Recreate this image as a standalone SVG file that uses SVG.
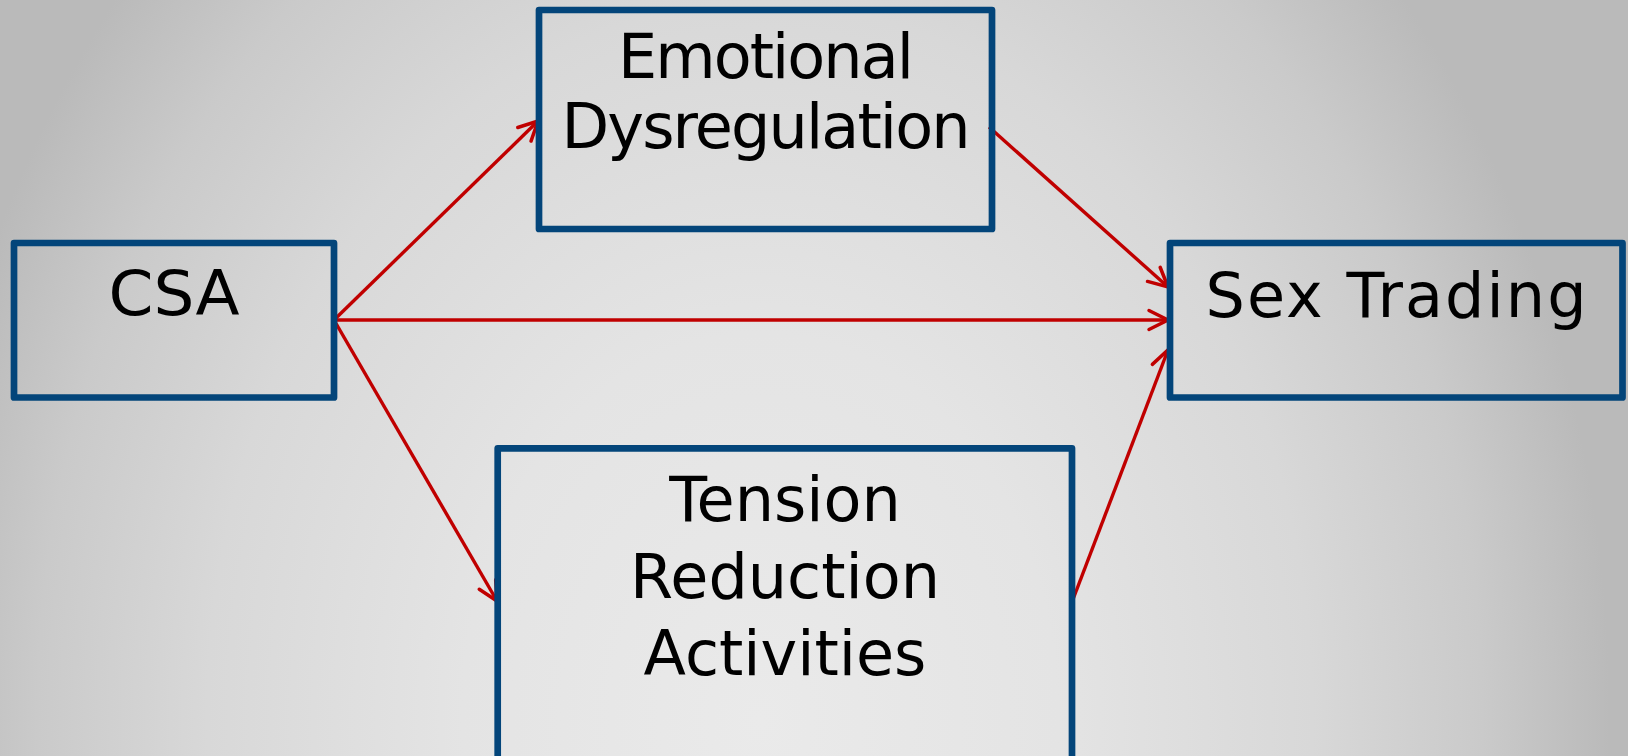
<svg xmlns="http://www.w3.org/2000/svg" width="1628" height="756" viewBox="0 0 1628 756">
  <defs>
    <radialGradient id="bg" gradientUnits="userSpaceOnUse" cx="760" cy="720" r="850" gradientTransform="translate(760 720) scale(1 1.3) translate(-760 -720)">
      <stop offset="0" stop-color="#eaeaea"/>
      <stop offset="0.35" stop-color="#e4e4e4"/>
      <stop offset="0.65" stop-color="#d8d8d8"/>
      <stop offset="0.85" stop-color="#cacaca"/>
      <stop offset="1.0" stop-color="#bababa"/>
    </radialGradient>
    <marker id="arrow" markerUnits="userSpaceOnUse" markerWidth="30" markerHeight="30" viewBox="-25 -15 30 30" refX="0" refY="0" orient="auto">
      <path d="M -19 -9.5 L 0 0 L -19 9.5" fill="none" stroke="#c00000" stroke-width="3.5" stroke-linecap="round" stroke-linejoin="miter"/>
    </marker>
    <style>
      .box { fill: none; stroke: #03457a; stroke-width: 6.7; stroke-linejoin: round; }
      .lbl { font-family: "DejaVu Sans", Verdana, "Liberation Sans", sans-serif; font-size: 62px; fill: #000000; text-anchor: middle; }
      .conn { stroke: #c00000; stroke-width: 3.4; fill: none; marker-end: url(#arrow); }
    </style>
  </defs>
  <rect x="0" y="0" width="1628" height="756" fill="url(#bg)"/>

  <g id="connectors">
    <line class="conn" x1="334" y1="320" x2="538" y2="121"/>
    <line class="conn" x1="334" y1="320" x2="1168" y2="320"/>
    <line class="conn" x1="334" y1="320" x2="497" y2="601"/>
    <line class="conn" x1="989" y1="127" x2="1168" y2="287"/>
    <line class="conn" x1="1072" y1="602" x2="1168" y2="350"/>
  </g>

  <g id="csa">
    <rect class="box" x="14" y="243" width="320" height="154.5"/>
    <text class="lbl" x="174" y="315" textLength="131" lengthAdjust="spacingAndGlyphs">CSA</text>
  </g>

  <g id="emotional-dysregulation">
    <rect class="box" x="539" y="10" width="453" height="219"/>
    <text class="lbl" x="766" y="78.3" font-size="60" textLength="296" lengthAdjust="spacing">Emotional</text>
    <text class="lbl" x="766" y="148.3" font-size="60" textLength="409" lengthAdjust="spacing">Dysregulation</text>
  </g>

  <g id="sex-trading">
    <rect class="box" x="1170" y="243" width="452.5" height="154.5"/>
    <text class="lbl" x="1396" y="316.7" textLength="381" lengthAdjust="spacing">Sex Trading</text>
  </g>

  <g id="tension-reduction-activities">
    <rect class="box" x="497.7" y="448.3" width="574.3" height="400"/>
    <text class="lbl" x="785" y="520.7">Tension</text>
    <text class="lbl" x="785" y="598.3">Reduction</text>
    <text class="lbl" x="785" y="675">Activities</text>
  </g>
</svg>
